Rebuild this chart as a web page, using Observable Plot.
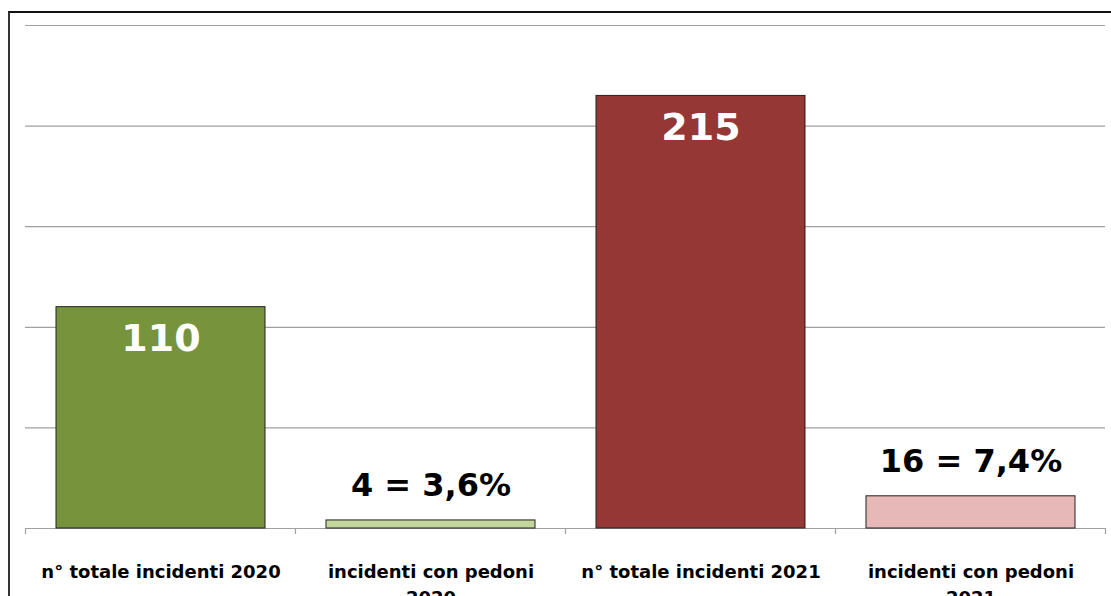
<!DOCTYPE html>
<html>
<head>
<meta charset="utf-8">
<script src="https://cdn.jsdelivr.net/npm/d3@7"></script>
<script src="https://cdn.jsdelivr.net/npm/@observablehq/plot@0.6"></script>
<style>
  html, body { margin: 0; padding: 0; background: #fff; overflow: hidden; }
  #wrap { position: relative; width: 1111px; height: 596px; }
  #border { position: absolute; left: 8px; top: 11px; right: 0; bottom: 0;
            border-top: 2px solid #111; border-left: 2px solid #333; }
  #chart { position: absolute; left: 0; top: 0; }
</style>
</head>
<body>
<div id="wrap"><div id="border"></div><div id="chart"></div></div>
<script>
const categories = ["n° totale incidenti 2020", "incidenti con pedoni 2020", "n° totale incidenti 2021", "incidenti con pedoni 2021"];
const tickLabels = ["n° totale incidenti 2020", "incidenti con pedoni\n2020", "n° totale incidenti 2021", "incidenti con pedoni\n2021"];
const values = [110, 4, 215, 16];
const valueLabels = ["110", "4 = 3,6%", "215", "16 = 7,4%"];
const colors = ["#77933C", "#C3D69B", "#953735", "#E6B9B8"];
const gridValues = [0, 50, 100, 150, 200, 250];

const data = categories.map((c, i) => ({cat: c, value: values[i], label: valueLabels[i], color: colors[i], inside: values[i] > 50}));
const paddingInner = 0.226;

const chart = Plot.plot({
  width: 1111,
  height: 596,
  marginLeft: 25,
  marginRight: 6,
  marginTop: 25,
  marginBottom: 68,
  style: {fontFamily: "'DejaVu Sans', Verdana, sans-serif", background: "transparent"},
  x: {domain: categories, paddingInner: paddingInner, paddingOuter: paddingInner / 2, axis: null},
  y: {domain: [0, 250], axis: null},
  marks: [
    Plot.ruleY(gridValues, {stroke: "#a0a0a0", strokeWidth: 1.2}),
    // category boundary ticks below the baseline
    Plot.ruleY([0], {
      render: (index, scales, values_, dims) => {
        const x = scales.x, y = scales.y;
        const step = x(categories[1]) - x(categories[0]);
        const bw = (scales.scales && scales.scales.x && scales.scales.x.bandwidth) || step * (1 - paddingInner);
        const edges = categories.map(c => x(c) + bw / 2 - step / 2);
        edges.push(edges[edges.length - 1] + step);
        const g = d3.create("svg:g");
        const y0 = y(0);
        g.selectAll("line").data(edges).join("line")
          .attr("x1", d => d).attr("x2", d => d)
          .attr("y1", y0).attr("y2", y0 + 6)
          .attr("stroke", "#a0a0a0").attr("stroke-width", 1.2);
        return g.node();
      }
    }),
    Plot.barY(data, {x: "cat", y: "value", fill: "color", stroke: "#222", strokeWidth: 1}),
    Plot.text(data.filter(d => d.inside), {x: "cat", y: "value", text: "label", fill: "white", fontSize: 38, fontWeight: "bold", dy: 32}),
    Plot.text(data.filter(d => !d.inside), {x: "cat", y: "value", text: "label", fill: "black", fontSize: 32, fontWeight: "bold", dy: -35}),
    Plot.axisX({
      tickSize: 0, tickPadding: 31,
      tickFormat: d => tickLabels[categories.indexOf(d)],
      fontSize: 18, fontWeight: "bold", fill: "black", lineHeight: 1.45,
      label: null
    })
  ]
});
document.getElementById("chart").appendChild(chart);
</script>
</body>
</html>
